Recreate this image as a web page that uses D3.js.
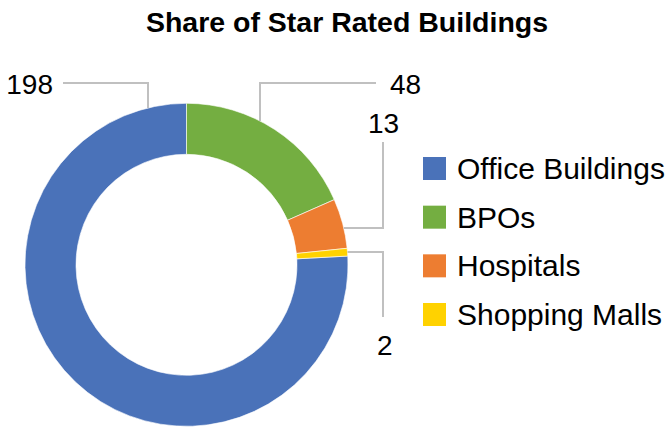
<!DOCTYPE html>
<html>
<head>
<meta charset="utf-8">
<script src="https://cdn.jsdelivr.net/npm/d3@7"></script>
<style>
  body { margin: 0; background: #fff; }
  text { font-family: "Liberation Sans", Arial, sans-serif; fill: #000; }
</style>
</head>
<body>
<div id="chart"></div>
<script>
// data
var categories = ["Office Buildings", "BPOs", "Hospitals", "Shopping Malls"];
var values = [198, 48, 13, 2];
var colors = ["#4a72b9", "#74ae41", "#ed7d31", "#ffd200"];

var width = 667, height = 428;
var cx = 186.5, cy = 264.8, outerR = 161.5, innerR = 110.5;

var svg = d3.select("#chart").append("svg")
    .attr("width", width).attr("height", height);

svg.append("text")
    .attr("x", 347).attr("y", 32)
    .attr("text-anchor", "middle")
    .style("font-weight", "bold")
    .style("font-size", "28.5px")
    .text("Share of Star Rated Buildings");

var total = d3.sum(values);
// first slice ends at 12 o'clock, the rest follow clockwise from there
var offset = 2 * Math.PI * (1 - values[0] / total);
var pie = d3.pie().sort(null).startAngle(offset).endAngle(offset + 2 * Math.PI);
var arc = d3.arc().innerRadius(innerR).outerRadius(outerR);

var g = svg.append("g").attr("transform", "translate(" + cx + "," + cy + ")");
g.selectAll("path.slice")
    .data(pie(values))
    .enter().append("path")
    .attr("class", "slice")
    .attr("d", arc)
    .attr("fill", function(d, i) { return colors[i]; })
    .attr("stroke", "#fff")
    .attr("stroke-width", 0.6);

// data labels with elbow leader lines (label layout, not data)
var labelLayout = [
    {tx: 53, ty: 94, anchor: "end", line: [[63, 83], [148, 83]], dir: "v"},
    {tx: 390, ty: 94, anchor: "start", line: [[376, 83], [260, 83]], dir: "v"},
    {tx: 368, ty: 133, anchor: "start", line: [[383, 142], [383, 228]], dir: "h"},
    {tx: 377, ty: 355, anchor: "start", line: [[383, 317], [383, 252]], dir: "h"}
];

// where the leader meets the outer rim of the ring
function rimPoint(p, dir) {
    if (dir === "v") {
        var dx = p[0] - cx;
        return [p[0], cy - Math.sqrt(outerR * outerR - dx * dx)];
    }
    var dy = p[1] - cy;
    return [cx + Math.sqrt(outerR * outerR - dy * dy), p[1]];
}

var lineGen = d3.line();
labelLayout.forEach(function(l, i) {
    var pts = l.line.concat([rimPoint(l.line[1], l.dir)]);
    svg.append("path")
        .attr("d", lineGen(pts))
        .attr("fill", "none")
        .attr("stroke", "#c0c0c0")
        .attr("stroke-width", 2);
    svg.append("text")
        .attr("x", l.tx).attr("y", l.ty)
        .attr("text-anchor", l.anchor)
        .style("font-size", "28px")
        .text(values[i]);
});

// legend
var legendY = d3.scalePoint().domain(categories).range([168.5, 314.5]);
var leg = svg.selectAll("g.legend")
    .data(categories)
    .enter().append("g")
    .attr("class", "legend")
    .attr("transform", function(d) { return "translate(423," + legendY(d) + ")"; });
leg.append("rect")
    .attr("x", 0).attr("y", -11.5)
    .attr("width", 23).attr("height", 23)
    .attr("fill", function(d, i) { return colors[i]; });
leg.append("text")
    .attr("x", 34).attr("y", 10.5)
    .style("font-size", "30px")
    .text(function(d) { return d; });
</script>
</body>
</html>
